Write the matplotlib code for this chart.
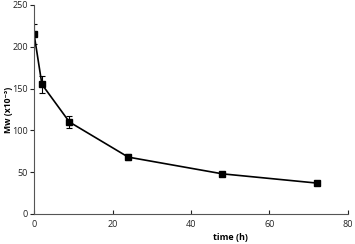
import matplotlib
matplotlib.use('Agg')
import matplotlib.pyplot as plt

# time points (h) and molecular weight (x10^-3) with error bars
time_h = [0, 2, 9, 24, 48, 72]
mw = [215, 155, 110, 68, 48, 37]
mw_err = [12, 10, 7, 4, 2, 2]

plt.rcParams['font.family'] = ['Open Sans', 'DejaVu Sans']

fig = plt.figure(figsize=(3.55, 2.44), dpi=100)
ax = fig.add_axes([0.096, 0.123, 0.884, 0.857])

ax.errorbar(time_h, mw, yerr=mw_err, color='black', marker='s', markersize=4,
            linewidth=1.2, elinewidth=0.8, capsize=2, capthick=0.8)

ax.set_xlim(0, 80)
ax.set_ylim(0, 250)
ax.set_xticks([0, 20, 40, 60, 80])
ax.set_yticks([0, 50, 100, 150, 200, 250])

for side in ['top', 'right']:
    ax.spines[side].set_visible(False)
for side in ['left', 'bottom']:
    ax.spines[side].set_color('#555555')
    ax.spines[side].set_linewidth(0.8)

ax.tick_params(axis='x', direction='in', length=3, labelsize=6.5, colors='#222222', pad=4)
ax.tick_params(axis='y', direction='out', length=3, labelsize=6.5, colors='#222222', pad=1.5)

ax.set_xlabel('time (h)', fontsize=6.5, fontweight='bold')
ax.xaxis.set_label_coords(0.627, -0.09)
ax.set_ylabel('Mw (x10\u207b\u00b3)', fontsize=6.2, fontweight='bold')
ax.yaxis.set_label_coords(-0.068, 0.5)

fig.savefig('out.png', dpi=100)
